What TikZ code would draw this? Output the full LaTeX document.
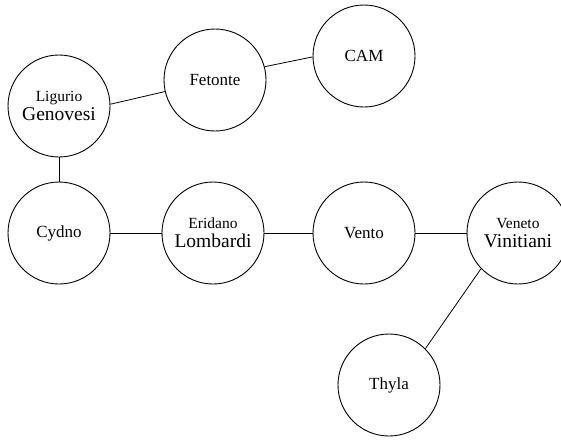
\documentclass[tikz,border=0pt]{standalone}
\usepackage{fontspec}
\setmainfont{Liberation Serif}
\begin{document}
\begin{tikzpicture}[x=1pt,y=-1pt,
  place/.style={circle,draw,line width=0.9pt,minimum size=102pt,inner sep=0pt,
    align=center,font=\fontsize{17}{20}\selectfont},
  small/.style={font=\fontsize{15.5}{18}\selectfont},
  link/.style={line width=0.8pt}]
\useasboundingbox (0,0) rectangle (561,440);
\clip (0,0) rectangle (561,440);
\newcommand\twolines[2]{{\fontsize{15.5}{18}\selectfont #1}\\[-1pt]{\fontsize{19.5}{22}\selectfont #2}}
\node[place] (lig) at (59,106) {\twolines{Ligurio}{Genovesi}};
\node[place] (fet) at (215,80) {Fetonte};
\node[place] (cam) at (364,56) {CAM};
\node[place] (cyd) at (59,233) {Cydno};
\node[place] (eri) at (213,233) {\twolines{Eridano}{Lombardi}};
\node[place] (ven) at (364,233) {Vento};
\node[place] (vnt) at (518,233) {\twolines{Veneto}{Vinitiani}};
\node[place] (thy) at (389,385) {Thyla};
\draw[link] (lig.2) -- (fet.193);
\draw[link] (fet.15) -- (cam.181);
\draw[link] (lig.south) -- (cyd.north);
\draw[link] (cyd.east) -- (eri.west);
\draw[link] (eri.east) -- (ven.west);
\draw[link] (ven.east) -- (vnt.west);
\draw[link] (vnt.224) -- (thy.45);
\end{tikzpicture}
\end{document}
